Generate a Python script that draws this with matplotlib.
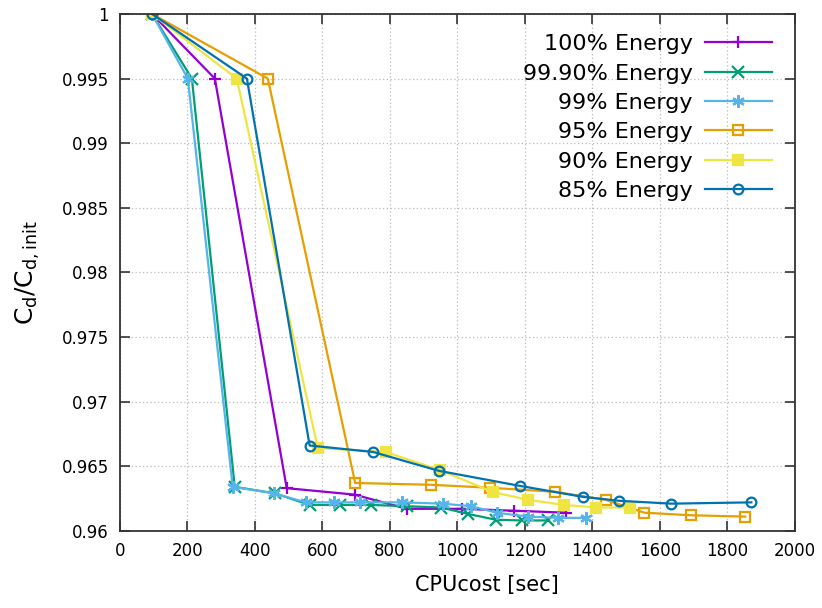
import matplotlib
matplotlib.use("Agg")
import matplotlib.pyplot as plt
from matplotlib.ticker import FuncFormatter

# series: CPU cost [sec] vs normalised drag
labels = ["100% Energy", "99.90% Energy", "99% Energy",
          "95% Energy", "90% Energy", "85% Energy"]

x_100 = [95, 281, 494, 695, 850, 1013, 1169, 1322]
y_100 = [1.0, 0.995, 0.9633, 0.9628, 0.9617, 0.9617, 0.96155, 0.9614]

x_999 = [95, 213, 340, 459, 562, 651, 745, 850, 952, 1032, 1115, 1190, 1267]
y_999 = [1.0, 0.995, 0.9634, 0.9629, 0.9620, 0.9620, 0.9620, 0.9619, 0.9618,
         0.9613, 0.96085, 0.9608, 0.9608]

x_99 = [95, 201, 334, 456, 550, 633, 710, 837, 956, 1041, 1116, 1208, 1297, 1382]
y_99 = [1.0, 0.995, 0.9634, 0.9629, 0.9622, 0.9622, 0.9622, 0.9622, 0.9621,
        0.9619, 0.9614, 0.9611, 0.9610, 0.9610]

x_95 = [95, 438, 697, 923, 1096, 1288, 1439, 1554, 1693, 1853]
y_95 = [1.0, 0.995, 0.9637, 0.96356, 0.96333, 0.96302, 0.9624, 0.9614, 0.9612, 0.9611]

x_90 = [95, 346, 586, 787, 948, 1105, 1208, 1317, 1411, 1512]
y_90 = [1.0, 0.995, 0.9664, 0.9661, 0.9647, 0.9630, 0.9624, 0.9620, 0.9618, 0.9618]

x_85 = [95, 376, 562, 750, 945, 1184, 1371, 1480, 1634, 1871]
y_85 = [1.0, 0.995, 0.9666, 0.9661, 0.96464, 0.96348, 0.96263, 0.96232, 0.9621, 0.9622]

xs = [x_100, x_999, x_99, x_95, x_90, x_85]
ys = [y_100, y_999, y_99, y_95, y_90, y_85]
colors = ["#9400d3", "#009e73", "#56b4e9", "#e69f00", "#f0e442", "#0072b2"]
# gnuplot point types 1..6: plus, cross, asterisk, open square, filled square, open circle
markers = ["+", "x", (6, 2, 0), "s", "s", "o"]
msizes = [9, 8, 9, 7, 7, 7]
filled = [True, True, True, False, True, False]

fig = plt.figure(figsize=(8.22, 6.08), dpi=100)
ax = fig.add_axes([0.146, 0.127, 0.821, 0.850])

for x, y, lab, c, m, ms, f in zip(xs, ys, labels, colors, markers, msizes, filled):
    ax.plot(x, y, color=c, lw=1.6, marker=m, ms=ms, mew=1.6,
            mfc=c if f else "none", mec=c, label=lab)

ax.set_xlim(0, 2000)
ax.set_ylim(0.96, 1.0)
ax.set_xticks(range(0, 2001, 200))
ax.set_yticks([0.96 + 0.005 * i for i in range(9)])
ax.yaxis.set_major_formatter(FuncFormatter(lambda v, p: f"{v:.3f}".rstrip("0").rstrip(".")))
ax.tick_params(direction="in", length=7, width=1.2, top=True, right=True,
               labelsize=12, pad=8, colors="#333333", labelcolor="black")
for s in ax.spines.values():
    s.set_linewidth(1.3)
    s.set_color("#333333")
ax.grid(True, color="#bbbbbb", ls=(0, (1, 2)), lw=0.9)

ax.set_xlabel("CPUcost [sec]", fontsize=15, labelpad=6)
ax.xaxis.set_label_coords(0.544, -0.085)
ax.set_ylabel(r"$\mathregular{C_d/C_{d,init}}$", fontsize=18, labelpad=14)

ax.legend(loc="upper right", bbox_to_anchor=(1.0, 1.006), frameon=False,
          markerfirst=False, fontsize=16, handlelength=3.0, labelspacing=0.42,
          borderaxespad=0.65, handletextpad=0.55)

fig.savefig("out.png", dpi=100)
